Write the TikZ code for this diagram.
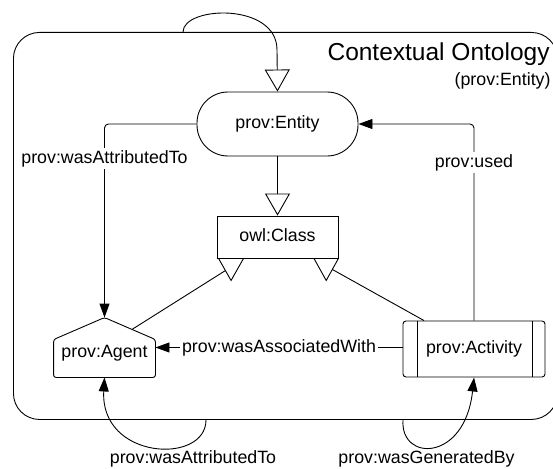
\documentclass[tikz,border=0pt]{standalone}
\usepackage{fontspec}
\setmainfont{Liberation Sans}
\usetikzlibrary{arrows.meta,calc}

\tikzset{
  plain/.style={font=\fontsize{17.8}{21}\selectfont, inner sep=0pt},
  txt/.style={plain, text height=12.9pt, text depth=3.7pt},
  lbl/.style={txt, fill=white, inner sep=2pt},
  solidtip/.style={-{Triangle[length=14pt,width=10pt]}},
  isa/.style={-{Triangle[open,length=22pt,width=25pt]}},
  box/.style={draw, inner sep=0pt},
}

\begin{document}
\begin{tikzpicture}[x=1pt, y=-1pt, line width=0.9pt]
\useasboundingbox (0,0) rectangle (553,468);

% outer ontology frame
\node[box, rounded corners=26pt, minimum width=544pt, minimum height=387pt,
      anchor=north west] (onto) at (13,32) {};
\node[font=\fontsize{24.5}{28}\selectfont, inner sep=0pt, anchor=base east]
  (title) at (550,61) {Contextual Ontology};
\node[plain, anchor=base east] (titlesub) at (551,86) {(prov:Entity)};

% classes
\node[box, txt, rounded corners=31pt, minimum width=161pt, minimum height=64pt]
  (ent) at (277.5,124) {prov:Entity};
\node[box, txt, minimum width=121pt, minimum height=42pt]
  (cls) at (277.5,237) {owl:Class};
\node[box, txt, rounded corners=3pt, minimum width=142pt, minimum height=56pt]
  (act) at (474,349) {prov:Activity};
\draw ([xshift=15pt]act.north west) -- ([xshift=15pt]act.south west);
\draw ([xshift=-13pt]act.north east) -- ([xshift=-13pt]act.south east);

% agent: house-shaped outline around an empty frame node
\node[inner sep=0pt, minimum width=101pt, minimum height=59pt] (agent) at (104.5,347.5) {};
\draw[rounded corners=2.5pt] (agent.north) -- ([yshift=-22pt]agent.north east)
  -- (agent.south east) -- (agent.south west) -- ([yshift=-22pt]agent.north west) -- cycle;
\node[txt] (agenttxt) at ($(agent.center)+(0,5)$) {prov:Agent};
\coordinate (agroof) at ($(agent.north)!0.54!([yshift=-22pt]agent.north east)$);

% subclass triangles below owl:Class
\coordinate (tl) at ([xshift=2pt]cls.south west);
\coordinate (tr) at ([xshift=-24.5pt]cls.south east);
\draw[fill=white] (tl) -- ++(25,0) -- ++(-12.5,22) -- cycle;
\draw[fill=white] (tr) -- ++(24.5,0) -- ++(-12.25,22) -- cycle;
\coordinate (tlside) at ($(tl)!0.55!($(tl)+(12.5,22)$)$);
\coordinate (trside) at ($(cls.south east)!0.5!($(tr)+(12.25,22)$)$);
\draw (agroof) -- (tlside);
\draw ([xshift=-50pt]act.north) -- (trside);

% generalisations
\draw[isa] (ent.south) -- (cls.north);
\draw[isa] ([xshift=170pt]onto.north west) .. controls (183,6) and (277,2) .. (277,50) -- (ent.north);

% properties
\draw[solidtip, rounded corners=4pt] (ent.west) -| (agent.north);
\node[lbl, anchor=base] (lattr) at (104.5,163) {prov:wasAttributedTo};

\draw[solidtip, rounded corners=4pt] (act.north) |- (ent.east);
\node[lbl, anchor=base] (lused) at (474,167) {prov:used};

\draw[solidtip] (agent.east -| act.west) -- (agent.east)
  node[lbl, midway] (lassoc) {prov:wasAssociatedWith};

\draw[solidtip] ([xshift=193pt]onto.south west) .. controls (206,465) and (100,460) .. (agent.south);
\node[txt, anchor=base] (lwat) at (193,463) {prov:wasAttributedTo};

\draw[solidtip] ([xshift=390pt]onto.south west) .. controls (400,462) and (465,462) .. (act.south);
\node[txt, anchor=base] (lwgb) at (426.5,463) {prov:wasGeneratedBy};
\end{tikzpicture}
\end{document}
